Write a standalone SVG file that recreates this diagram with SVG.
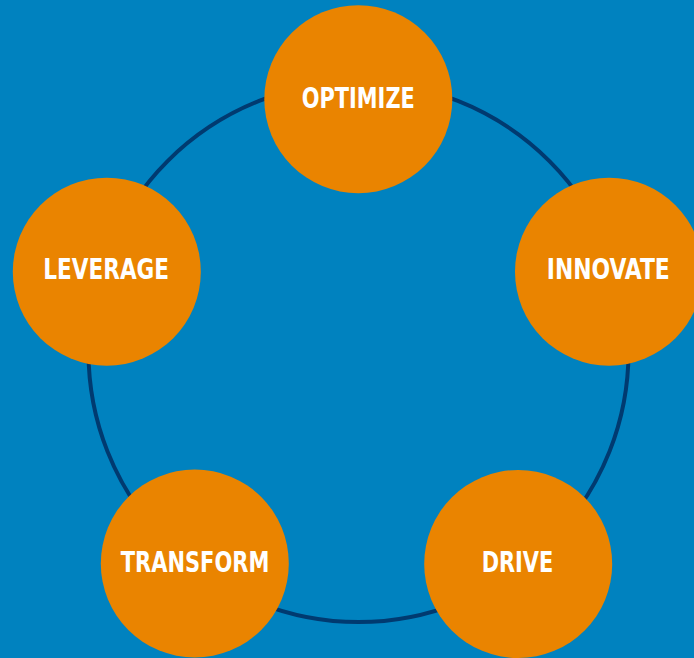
<svg xmlns="http://www.w3.org/2000/svg" width="694" height="658" viewBox="0 0 694 658">
  <style>
    .node circle { fill: #EA8400; }
    .node text { fill: #FFFFFF; font-family: "Liberation Sans Narrow", "DejaVu Sans Condensed", "Liberation Sans", sans-serif; font-weight: bold; font-size: 28px; text-anchor: middle; }
    .ring { fill: none; stroke: #003A70; stroke-width: 4; }
  </style>
  <rect width="694" height="658" fill="#0082BF"/>
  <g id="connectors">
    <circle class="ring" cx="358.5" cy="352" r="270"/>
  </g>
  <g id="optimize" class="node">
    <circle cx="358.3" cy="99.2" r="94"/>
    <text x="358.3" y="108.3" textLength="113" lengthAdjust="spacingAndGlyphs">OPTIMIZE</text>
  </g>
  <g id="innovate" class="node">
    <circle cx="609" cy="271.7" r="94"/>
    <text x="608.3" y="279.3" textLength="123" lengthAdjust="spacingAndGlyphs">INNOVATE</text>
  </g>
  <g id="leverage" class="node">
    <circle cx="106.8" cy="271.7" r="94"/>
    <text x="106.2" y="279.3" textLength="125.7" lengthAdjust="spacingAndGlyphs">LEVERAGE</text>
  </g>
  <g id="transform" class="node">
    <circle cx="194.8" cy="563.5" r="94"/>
    <text x="195" y="571.7" textLength="148.7" lengthAdjust="spacingAndGlyphs">TRANSFORM</text>
  </g>
  <g id="drive" class="node">
    <circle cx="518.2" cy="564" r="94"/>
    <text x="517.5" y="571.7" textLength="71.7" lengthAdjust="spacingAndGlyphs">DRIVE</text>
  </g>
</svg>
